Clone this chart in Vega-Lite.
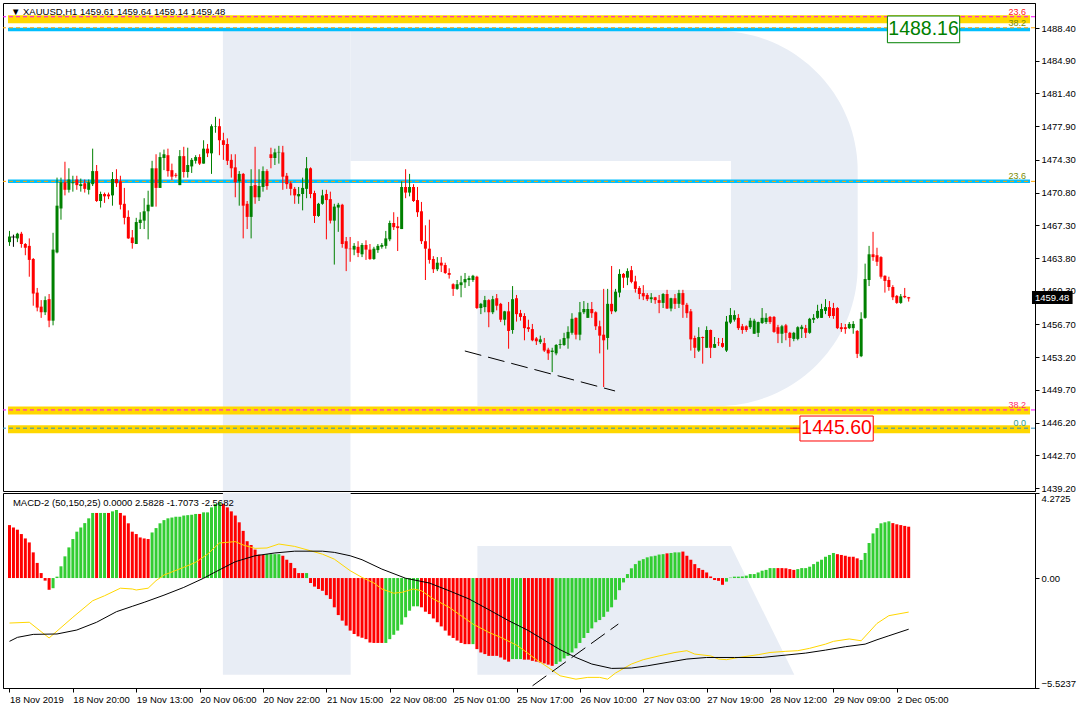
{
"$schema":"https://vega.github.io/schema/vega-lite/v6.json",
"padding":{"left":2,"top":2,"right":0,"bottom":0},
"background":"white",
"spacing":2,
"bounds":"flush",
"config":{"view":{"stroke":"#000000","strokeWidth":1},"font":"Liberation Sans","axis":{"labelFont":"Liberation Sans","labelFontSize":9.5,"labelColor":"#000000","domainColor":"#000000","tickColor":"#000000","grid":false,"title":null,"labelOverlap":false}},
"datasets":{
"candles":[
{"i":0,"o":1465.5,"h":1466.7,"l":1465.1,"c":1466.1,"m":2.66,"k":"r"},
{"i":1,"o":1466.05,"h":1466.3,"l":1465.0,"c":1466.05,"m":2.54,"k":"r"},
{"i":2,"o":1465.9,"h":1466.5,"l":1465.5,"c":1466.4,"m":2.43,"k":"r"},
{"i":3,"o":1466.4,"h":1466.6,"l":1464.9,"c":1465.3,"m":2.21,"k":"r"},
{"i":4,"o":1465.3,"h":1465.4,"l":1464.1,"c":1464.9,"m":1.99,"k":"r"},
{"i":5,"o":1465.1,"h":1465.9,"l":1461.8,"c":1463.6,"m":1.79,"k":"r"},
{"i":6,"o":1463.7,"h":1463.8,"l":1458.7,"c":1460.0,"m":1.29,"k":"r"},
{"i":7,"o":1460.1,"h":1460.6,"l":1458.1,"c":1458.5,"m":0.76,"k":"r"},
{"i":8,"o":1458.6,"h":1459.3,"l":1457.4,"c":1458.0,"m":0.25,"k":"r"},
{"i":9,"o":1458.0,"h":1459.7,"l":1457.7,"c":1459.3,"m":-0.13,"k":"r"},
{"i":10,"o":1459.4,"h":1459.95,"l":1456.4,"c":1457.1,"m":-0.59,"k":"r"},
{"i":11,"o":1457.1,"h":1466.5,"l":1456.6,"c":1464.7,"m":-0.51,"k":"g"},
{"i":12,"o":1464.4,"h":1472.4,"l":1464.3,"c":1469.4,"m":0.07,"k":"g"},
{"i":13,"o":1469.1,"h":1472.4,"l":1467.9,"c":1471.9,"m":0.59,"k":"g"},
{"i":14,"o":1471.9,"h":1474.1,"l":1470.5,"c":1471.1,"m":1.09,"k":"g"},
{"i":15,"o":1471.1,"h":1473.4,"l":1470.8,"c":1472.2,"m":1.54,"k":"g"},
{"i":16,"o":1471.8,"h":1472.6,"l":1470.9,"c":1471.9,"m":1.96,"k":"g"},
{"i":17,"o":1472.2,"h":1472.6,"l":1471.1,"c":1471.6,"m":2.33,"k":"g"},
{"i":18,"o":1471.5,"h":1472.3,"l":1470.9,"c":1471.7,"m":2.54,"k":"g"},
{"i":19,"o":1471.8,"h":1472.2,"l":1470.8,"c":1471.2,"m":2.76,"k":"g"},
{"i":20,"o":1471.1,"h":1472.2,"l":1470.6,"c":1471.9,"m":3.0,"k":"g"},
{"i":21,"o":1471.7,"h":1475.5,"l":1471.5,"c":1473.1,"m":3.27,"k":"g"},
{"i":22,"o":1473.1,"h":1473.75,"l":1469.8,"c":1469.9,"m":3.27,"k":"r"},
{"i":23,"o":1469.9,"h":1470.9,"l":1469.2,"c":1470.65,"m":3.27,"k":"g"},
{"i":24,"o":1470.65,"h":1470.8,"l":1469.7,"c":1470.4,"m":3.27,"k":"g"},
{"i":25,"o":1470.6,"h":1470.8,"l":1470.1,"c":1470.4,"m":3.27,"k":"r"},
{"i":26,"o":1470.5,"h":1473.0,"l":1469.4,"c":1472.25,"m":3.35,"k":"g"},
{"i":27,"o":1472.25,"h":1473.3,"l":1471.4,"c":1471.8,"m":3.42,"k":"g"},
{"i":28,"o":1472.0,"h":1472.6,"l":1469.0,"c":1469.5,"m":3.27,"k":"r"},
{"i":29,"o":1469.6,"h":1471.3,"l":1467.4,"c":1468.1,"m":3.14,"k":"r"},
{"i":30,"o":1468.2,"h":1468.9,"l":1465.85,"c":1465.9,"m":2.75,"k":"r"},
{"i":31,"o":1466.0,"h":1466.8,"l":1464.8,"c":1465.4,"m":2.33,"k":"r"},
{"i":32,"o":1465.3,"h":1468.1,"l":1465.3,"c":1467.65,"m":2.21,"k":"r"},
{"i":33,"o":1467.55,"h":1468.7,"l":1466.9,"c":1467.9,"m":2.04,"k":"r"},
{"i":34,"o":1467.8,"h":1470.2,"l":1466.9,"c":1468.8,"m":1.99,"k":"r"},
{"i":35,"o":1468.8,"h":1471.0,"l":1465.8,"c":1469.5,"m":1.96,"k":"r"},
{"i":36,"o":1469.3,"h":1474.2,"l":1469.3,"c":1473.4,"m":2.29,"k":"g"},
{"i":37,"o":1473.4,"h":1474.9,"l":1469.3,"c":1471.3,"m":2.51,"k":"g"},
{"i":38,"o":1471.3,"h":1475.1,"l":1471.3,"c":1474.6,"m":2.75,"k":"g"},
{"i":39,"o":1474.5,"h":1475.4,"l":1473.2,"c":1474.9,"m":2.91,"k":"g"},
{"i":40,"o":1474.8,"h":1475.5,"l":1472.5,"c":1473.1,"m":3.0,"k":"g"},
{"i":41,"o":1473.2,"h":1473.9,"l":1472.15,"c":1472.5,"m":3.04,"k":"g"},
{"i":42,"o":1472.7,"h":1472.9,"l":1472.4,"c":1472.6,"m":3.08,"k":"g"},
{"i":43,"o":1471.6,"h":1475.35,"l":1471.6,"c":1474.7,"m":3.08,"k":"g"},
{"i":44,"o":1474.7,"h":1475.7,"l":1472.4,"c":1473.0,"m":3.14,"k":"g"},
{"i":45,"o":1473.0,"h":1475.6,"l":1472.4,"c":1473.75,"m":3.16,"k":"g"},
{"i":46,"o":1473.6,"h":1474.5,"l":1472.9,"c":1474.3,"m":3.18,"k":"g"},
{"i":47,"o":1474.2,"h":1474.8,"l":1473.9,"c":1474.6,"m":3.22,"k":"g"},
{"i":48,"o":1474.6,"h":1474.9,"l":1473.75,"c":1473.9,"m":3.22,"k":"r"},
{"i":49,"o":1473.9,"h":1476.4,"l":1473.9,"c":1475.5,"m":3.3,"k":"g"},
{"i":50,"o":1475.5,"h":1476.0,"l":1474.6,"c":1475.0,"m":3.3,"k":"g"},
{"i":51,"o":1475.0,"h":1478.1,"l":1472.8,"c":1477.9,"m":3.55,"k":"g"},
{"i":52,"o":1477.85,"h":1478.9,"l":1477.2,"c":1477.9,"m":3.72,"k":"g"},
{"i":53,"o":1477.9,"h":1478.7,"l":1474.8,"c":1476.4,"m":3.81,"k":"g"},
{"i":54,"o":1476.4,"h":1477.2,"l":1474.3,"c":1475.9,"m":3.72,"k":"r"},
{"i":55,"o":1476.0,"h":1476.6,"l":1473.75,"c":1474.2,"m":3.55,"k":"r"},
{"i":56,"o":1474.3,"h":1474.9,"l":1472.4,"c":1473.4,"m":3.35,"k":"r"},
{"i":57,"o":1473.5,"h":1474.9,"l":1470.3,"c":1471.9,"m":3.14,"k":"r"},
{"i":58,"o":1472.0,"h":1473.1,"l":1469.4,"c":1472.8,"m":2.8,"k":"r"},
{"i":59,"o":1472.8,"h":1472.9,"l":1465.9,"c":1469.4,"m":2.37,"k":"r"},
{"i":60,"o":1469.6,"h":1469.9,"l":1466.9,"c":1468.2,"m":1.85,"k":"r"},
{"i":61,"o":1468.2,"h":1473.3,"l":1465.9,"c":1471.5,"m":1.66,"k":"r"},
{"i":62,"o":1471.6,"h":1475.7,"l":1469.6,"c":1470.3,"m":1.43,"k":"r"},
{"i":63,"o":1470.3,"h":1473.3,"l":1469.9,"c":1471.5,"m":1.18,"k":"r"},
{"i":64,"o":1471.4,"h":1473.6,"l":1470.9,"c":1473.1,"m":1.16,"k":"r"},
{"i":65,"o":1473.1,"h":1473.3,"l":1471.1,"c":1471.5,"m":1.2,"k":"g"},
{"i":66,"o":1474.9,"h":1475.6,"l":1473.4,"c":1474.5,"m":1.2,"k":"g"},
{"i":67,"o":1474.5,"h":1475.5,"l":1473.75,"c":1475.1,"m":1.2,"k":"g"},
{"i":68,"o":1475.1,"h":1475.8,"l":1473.9,"c":1475.15,"m":1.2,"k":"g"},
{"i":69,"o":1475.1,"h":1475.8,"l":1471.1,"c":1472.5,"m":1.12,"k":"r"},
{"i":70,"o":1472.6,"h":1472.9,"l":1471.2,"c":1471.7,"m":0.92,"k":"r"},
{"i":71,"o":1471.8,"h":1472.0,"l":1470.5,"c":1471.2,"m":0.76,"k":"r"},
{"i":72,"o":1471.2,"h":1471.4,"l":1469.6,"c":1470.5,"m":0.5,"k":"r"},
{"i":73,"o":1470.4,"h":1471.4,"l":1469.6,"c":1470.65,"m":0.25,"k":"r"},
{"i":74,"o":1470.65,"h":1472.4,"l":1468.9,"c":1471.3,"m":0.25,"k":"r"},
{"i":75,"o":1471.2,"h":1474.6,"l":1470.2,"c":1473.4,"m":0.25,"k":"g"},
{"i":76,"o":1473.4,"h":1473.5,"l":1470.2,"c":1470.65,"m":-0.25,"k":"r"},
{"i":77,"o":1470.75,"h":1471.0,"l":1467.55,"c":1468.3,"m":-0.43,"k":"r"},
{"i":78,"o":1468.3,"h":1469.7,"l":1468.2,"c":1469.6,"m":-0.55,"k":"r"},
{"i":79,"o":1469.6,"h":1471.1,"l":1469.5,"c":1470.5,"m":-0.64,"k":"r"},
{"i":80,"o":1470.65,"h":1471.1,"l":1465.8,"c":1470.0,"m":-0.86,"k":"r"},
{"i":81,"o":1470.1,"h":1470.9,"l":1467.5,"c":1467.8,"m":-1.05,"k":"r"},
{"i":82,"o":1467.8,"h":1469.6,"l":1463.1,"c":1469.3,"m":-1.47,"k":"r"},
{"i":83,"o":1469.2,"h":1469.7,"l":1466.6,"c":1469.5,"m":-1.86,"k":"r"},
{"i":84,"o":1469.5,"h":1469.6,"l":1464.9,"c":1465.3,"m":-2.14,"k":"r"},
{"i":85,"o":1465.6,"h":1466.05,"l":1462.4,"c":1464.8,"m":-2.39,"k":"r"},
{"i":86,"o":1464.8,"h":1466.05,"l":1463.4,"c":1464.75,"m":-2.64,"k":"r"},
{"i":87,"o":1464.7,"h":1465.4,"l":1464.1,"c":1465.1,"m":-2.81,"k":"r"},
{"i":88,"o":1465.0,"h":1465.6,"l":1463.9,"c":1464.35,"m":-2.93,"k":"r"},
{"i":89,"o":1464.2,"h":1465.4,"l":1463.9,"c":1465.2,"m":-3.0,"k":"r"},
{"i":90,"o":1465.2,"h":1465.7,"l":1463.6,"c":1464.7,"m":-3.07,"k":"r"},
{"i":91,"o":1464.7,"h":1465.3,"l":1463.6,"c":1463.7,"m":-3.24,"k":"r"},
{"i":92,"o":1463.7,"h":1465.0,"l":1463.6,"c":1464.8,"m":-3.26,"k":"r"},
{"i":93,"o":1464.65,"h":1465.3,"l":1464.35,"c":1465.1,"m":-3.26,"k":"r"},
{"i":94,"o":1465.0,"h":1465.4,"l":1464.8,"c":1465.2,"m":-3.26,"k":"r"},
{"i":95,"o":1465.1,"h":1466.7,"l":1464.8,"c":1465.9,"m":-3.26,"k":"g"},
{"i":96,"o":1465.8,"h":1467.8,"l":1465.6,"c":1467.55,"m":-3.07,"k":"g"},
{"i":97,"o":1467.55,"h":1468.7,"l":1466.8,"c":1467.1,"m":-2.85,"k":"g"},
{"i":98,"o":1467.2,"h":1468.2,"l":1464.55,"c":1467.0,"m":-2.64,"k":"g"},
{"i":99,"o":1466.9,"h":1472.0,"l":1466.9,"c":1471.4,"m":-2.34,"k":"g"},
{"i":100,"o":1471.4,"h":1473.3,"l":1470.2,"c":1470.8,"m":-1.97,"k":"g"},
{"i":101,"o":1470.8,"h":1472.8,"l":1470.4,"c":1471.4,"m":-1.64,"k":"g"},
{"i":102,"o":1471.4,"h":1471.7,"l":1469.8,"c":1469.9,"m":-1.42,"k":"g"},
{"i":103,"o":1470.0,"h":1471.4,"l":1468.2,"c":1468.7,"m":-1.42,"k":"g"},
{"i":104,"o":1468.8,"h":1469.8,"l":1465.3,"c":1465.6,"m":-1.47,"k":"r"},
{"i":105,"o":1465.6,"h":1467.3,"l":1461.45,"c":1464.8,"m":-1.69,"k":"r"},
{"i":106,"o":1464.8,"h":1467.9,"l":1463.2,"c":1463.6,"m":-1.81,"k":"r"},
{"i":107,"o":1463.7,"h":1464.0,"l":1462.2,"c":1462.6,"m":-2.03,"k":"r"},
{"i":108,"o":1462.6,"h":1463.9,"l":1462.4,"c":1463.3,"m":-2.22,"k":"r"},
{"i":109,"o":1463.3,"h":1463.9,"l":1462.3,"c":1463.0,"m":-2.43,"k":"r"},
{"i":110,"o":1463.05,"h":1463.3,"l":1462.1,"c":1462.2,"m":-2.64,"k":"r"},
{"i":111,"o":1462.2,"h":1462.7,"l":1461.6,"c":1462.0,"m":-2.89,"k":"r"},
{"i":112,"o":1461.0,"h":1461.1,"l":1459.75,"c":1460.5,"m":-3.01,"k":"r"},
{"i":113,"o":1460.5,"h":1461.45,"l":1460.4,"c":1461.0,"m":-3.14,"k":"r"},
{"i":114,"o":1460.9,"h":1461.9,"l":1459.6,"c":1461.2,"m":-3.26,"k":"r"},
{"i":115,"o":1461.2,"h":1462.2,"l":1460.6,"c":1461.55,"m":-3.32,"k":"r"},
{"i":116,"o":1461.45,"h":1461.9,"l":1460.8,"c":1461.65,"m":-3.32,"k":"r"},
{"i":117,"o":1461.45,"h":1462.0,"l":1461.25,"c":1461.9,"m":-3.32,"k":"g"},
{"i":118,"o":1461.8,"h":1461.9,"l":1458.35,"c":1458.45,"m":-3.57,"k":"r"},
{"i":119,"o":1458.45,"h":1459.0,"l":1457.8,"c":1458.9,"m":-3.74,"k":"r"},
{"i":120,"o":1458.55,"h":1459.75,"l":1458.0,"c":1459.3,"m":-3.82,"k":"r"},
{"i":121,"o":1459.3,"h":1459.4,"l":1456.4,"c":1458.0,"m":-3.91,"k":"r"},
{"i":122,"o":1458.0,"h":1459.75,"l":1457.8,"c":1459.4,"m":-3.91,"k":"r"},
{"i":123,"o":1459.5,"h":1459.95,"l":1458.2,"c":1458.7,"m":-3.91,"k":"r"},
{"i":124,"o":1458.9,"h":1459.0,"l":1456.95,"c":1457.2,"m":-3.99,"k":"r"},
{"i":125,"o":1457.2,"h":1458.15,"l":1456.6,"c":1458.1,"m":-4.1,"k":"r"},
{"i":126,"o":1458.1,"h":1459.1,"l":1454.1,"c":1456.0,"m":-4.2,"k":"r"},
{"i":127,"o":1456.1,"h":1460.8,"l":1455.7,"c":1459.4,"m":-4.07,"k":"g"},
{"i":128,"o":1459.5,"h":1459.85,"l":1457.0,"c":1457.8,"m":-4.07,"k":"g"},
{"i":129,"o":1457.9,"h":1458.25,"l":1457.1,"c":1457.5,"m":-4.07,"k":"g"},
{"i":130,"o":1457.6,"h":1457.9,"l":1455.0,"c":1456.3,"m":-4.1,"k":"r"},
{"i":131,"o":1456.4,"h":1457.2,"l":1455.9,"c":1456.2,"m":-4.1,"k":"r"},
{"i":132,"o":1456.2,"h":1456.75,"l":1454.9,"c":1455.0,"m":-4.16,"k":"r"},
{"i":133,"o":1455.2,"h":1455.35,"l":1454.5,"c":1454.9,"m":-4.2,"k":"r"},
{"i":134,"o":1454.8,"h":1455.5,"l":1454.6,"c":1455.1,"m":-4.24,"k":"r"},
{"i":135,"o":1454.7,"h":1455.25,"l":1453.75,"c":1453.9,"m":-4.29,"k":"r"},
{"i":136,"o":1454.0,"h":1454.2,"l":1452.9,"c":1453.6,"m":-4.35,"k":"r"},
{"i":137,"o":1453.75,"h":1454.2,"l":1451.6,"c":1453.9,"m":-4.41,"k":"r"},
{"i":138,"o":1453.6,"h":1454.6,"l":1453.4,"c":1454.5,"m":-4.32,"k":"g"},
{"i":139,"o":1454.5,"h":1455.1,"l":1454.1,"c":1454.6,"m":-4.2,"k":"g"},
{"i":140,"o":1454.5,"h":1455.8,"l":1454.4,"c":1455.25,"m":-4.04,"k":"g"},
{"i":141,"o":1455.2,"h":1456.5,"l":1454.1,"c":1455.9,"m":-3.91,"k":"g"},
{"i":142,"o":1455.8,"h":1457.9,"l":1455.6,"c":1457.3,"m":-3.74,"k":"g"},
{"i":143,"o":1457.4,"h":1457.45,"l":1455.1,"c":1455.6,"m":-3.53,"k":"g"},
{"i":144,"o":1455.6,"h":1459.1,"l":1455.0,"c":1458.0,"m":-3.26,"k":"g"},
{"i":145,"o":1458.0,"h":1459.2,"l":1457.8,"c":1458.35,"m":-3.01,"k":"g"},
{"i":146,"o":1457.4,"h":1459.0,"l":1457.4,"c":1458.35,"m":-2.76,"k":"g"},
{"i":147,"o":1458.35,"h":1459.1,"l":1457.4,"c":1457.9,"m":-2.53,"k":"g"},
{"i":148,"o":1458.0,"h":1458.1,"l":1456.1,"c":1456.5,"m":-2.22,"k":"g"},
{"i":149,"o":1456.5,"h":1457.1,"l":1453.6,"c":1455.5,"m":-2.11,"k":"g"},
{"i":150,"o":1455.6,"h":1460.5,"l":1450.0,"c":1455.0,"m":-1.95,"k":"g"},
{"i":151,"o":1455.25,"h":1460.5,"l":1454.0,"c":1458.9,"m":-1.69,"k":"g"},
{"i":152,"o":1458.9,"h":1462.95,"l":1457.8,"c":1458.1,"m":-1.47,"k":"g"},
{"i":153,"o":1458.1,"h":1460.5,"l":1458.0,"c":1460.2,"m":-1.09,"k":"g"},
{"i":154,"o":1460.1,"h":1462.6,"l":1459.6,"c":1462.1,"m":-0.61,"k":"g"},
{"i":155,"o":1462.1,"h":1462.2,"l":1460.6,"c":1461.7,"m":-0.22,"k":"g"},
{"i":156,"o":1461.7,"h":1462.7,"l":1460.9,"c":1462.4,"m":0.2,"k":"g"},
{"i":157,"o":1462.5,"h":1462.95,"l":1461.1,"c":1461.25,"m":0.49,"k":"g"},
{"i":158,"o":1461.3,"h":1461.9,"l":1460.1,"c":1460.5,"m":0.7,"k":"g"},
{"i":159,"o":1460.6,"h":1460.8,"l":1459.4,"c":1459.95,"m":0.87,"k":"g"},
{"i":160,"o":1460.05,"h":1460.9,"l":1459.3,"c":1459.7,"m":0.95,"k":"g"},
{"i":161,"o":1459.85,"h":1460.05,"l":1459.2,"c":1459.4,"m":1.04,"k":"g"},
{"i":162,"o":1459.4,"h":1460.05,"l":1459.0,"c":1459.6,"m":1.09,"k":"g"},
{"i":163,"o":1459.6,"h":1459.65,"l":1458.9,"c":1459.3,"m":1.12,"k":"g"},
{"i":164,"o":1459.3,"h":1459.85,"l":1457.9,"c":1459.0,"m":1.18,"k":"g"},
{"i":165,"o":1459.0,"h":1460.05,"l":1458.45,"c":1459.95,"m":1.2,"k":"g"},
{"i":166,"o":1459.95,"h":1460.4,"l":1458.35,"c":1458.4,"m":1.24,"k":"r"},
{"i":167,"o":1458.4,"h":1459.55,"l":1458.1,"c":1459.5,"m":1.26,"k":"g"},
{"i":168,"o":1459.5,"h":1459.95,"l":1458.35,"c":1458.9,"m":1.29,"k":"g"},
{"i":169,"o":1458.9,"h":1460.4,"l":1458.45,"c":1460.05,"m":1.29,"k":"g"},
{"i":170,"o":1460.05,"h":1460.4,"l":1457.4,"c":1458.8,"m":1.33,"k":"r"},
{"i":171,"o":1458.8,"h":1459.0,"l":1457.4,"c":1457.9,"m":1.12,"k":"r"},
{"i":172,"o":1458.1,"h":1458.35,"l":1453.9,"c":1455.1,"m":0.92,"k":"r"},
{"i":173,"o":1455.25,"h":1455.5,"l":1453.1,"c":1454.2,"m":0.7,"k":"r"},
{"i":174,"o":1453.9,"h":1456.4,"l":1453.75,"c":1455.35,"m":0.5,"k":"r"},
{"i":175,"o":1455.35,"h":1455.4,"l":1452.5,"c":1455.25,"m":0.41,"k":"r"},
{"i":176,"o":1454.2,"h":1456.5,"l":1454.2,"c":1456.1,"m":0.28,"k":"r"},
{"i":177,"o":1456.1,"h":1456.15,"l":1453.1,"c":1454.2,"m":0.08,"k":"r"},
{"i":178,"o":1454.2,"h":1455.35,"l":1454.2,"c":1454.6,"m":-0.1,"k":"r"},
{"i":179,"o":1454.75,"h":1455.25,"l":1454.4,"c":1454.7,"m":-0.14,"k":"r"},
{"i":180,"o":1454.7,"h":1455.25,"l":1454.2,"c":1454.3,"m":-0.34,"k":"r"},
{"i":181,"o":1453.9,"h":1457.6,"l":1453.75,"c":1457.0,"m":-0.18,"k":"g"},
{"i":182,"o":1456.9,"h":1458.45,"l":1456.75,"c":1457.7,"m":0.02,"k":"g"},
{"i":183,"o":1457.2,"h":1458.2,"l":1457.0,"c":1457.7,"m":0.07,"k":"g"},
{"i":184,"o":1457.4,"h":1457.8,"l":1456.1,"c":1456.3,"m":0.07,"k":"g"},
{"i":185,"o":1456.5,"h":1456.75,"l":1455.7,"c":1456.1,"m":0.08,"k":"g"},
{"i":186,"o":1456.5,"h":1456.6,"l":1455.9,"c":1456.1,"m":0.12,"k":"g"},
{"i":187,"o":1456.4,"h":1457.4,"l":1456.2,"c":1457.1,"m":0.2,"k":"g"},
{"i":188,"o":1455.7,"h":1457.3,"l":1455.7,"c":1457.1,"m":0.2,"k":"g"},
{"i":189,"o":1455.8,"h":1457.0,"l":1455.35,"c":1456.95,"m":0.28,"k":"g"},
{"i":190,"o":1456.85,"h":1458.45,"l":1456.75,"c":1457.4,"m":0.37,"k":"g"},
{"i":191,"o":1456.95,"h":1457.9,"l":1456.75,"c":1457.4,"m":0.41,"k":"g"},
{"i":192,"o":1457.5,"h":1457.6,"l":1456.75,"c":1456.95,"m":0.5,"k":"g"},
{"i":193,"o":1457.5,"h":1457.6,"l":1455.8,"c":1455.9,"m":0.5,"k":"g"},
{"i":194,"o":1456.4,"h":1456.65,"l":1454.7,"c":1455.7,"m":0.5,"k":"r"},
{"i":195,"o":1455.7,"h":1456.65,"l":1454.7,"c":1456.5,"m":0.5,"k":"r"},
{"i":196,"o":1456.6,"h":1456.75,"l":1455.0,"c":1455.8,"m":0.49,"k":"r"},
{"i":197,"o":1455.8,"h":1455.9,"l":1454.3,"c":1455.25,"m":0.45,"k":"r"},
{"i":198,"o":1455.15,"h":1455.9,"l":1454.9,"c":1455.8,"m":0.41,"k":"r"},
{"i":199,"o":1455.15,"h":1456.5,"l":1455.0,"c":1456.4,"m":0.45,"k":"g"},
{"i":200,"o":1456.2,"h":1456.65,"l":1455.25,"c":1456.45,"m":0.5,"k":"g"},
{"i":201,"o":1456.3,"h":1456.65,"l":1455.25,"c":1455.8,"m":0.5,"k":"g"},
{"i":202,"o":1455.8,"h":1457.4,"l":1455.7,"c":1457.3,"m":0.57,"k":"g"},
{"i":203,"o":1457.2,"h":1457.8,"l":1456.85,"c":1457.4,"m":0.7,"k":"g"},
{"i":204,"o":1457.4,"h":1458.8,"l":1457.3,"c":1458.15,"m":0.82,"k":"g"},
{"i":205,"o":1457.4,"h":1458.9,"l":1457.4,"c":1458.35,"m":0.92,"k":"g"},
{"i":206,"o":1458.15,"h":1459.4,"l":1457.8,"c":1458.55,"m":1.07,"k":"g"},
{"i":207,"o":1458.55,"h":1459.2,"l":1457.4,"c":1457.6,"m":1.16,"k":"g"},
{"i":208,"o":1458.45,"h":1459.0,"l":1457.3,"c":1457.6,"m":1.26,"k":"g"},
{"i":209,"o":1458.45,"h":1458.55,"l":1456.2,"c":1456.3,"m":1.2,"k":"r"},
{"i":210,"o":1456.4,"h":1456.85,"l":1455.9,"c":1456.2,"m":1.16,"k":"r"},
{"i":211,"o":1456.4,"h":1456.75,"l":1455.7,"c":1456.2,"m":1.12,"k":"r"},
{"i":212,"o":1456.3,"h":1456.95,"l":1456.2,"c":1456.75,"m":1.07,"k":"r"},
{"i":213,"o":1456.3,"h":1457.05,"l":1455.7,"c":1456.75,"m":1.07,"k":"r"},
{"i":214,"o":1456.0,"h":1456.1,"l":1453.1,"c":1453.55,"m":0.99,"k":"r"},
{"i":215,"o":1453.3,"h":1458.0,"l":1453.2,"c":1457.3,"m":0.91,"k":"g"},
{"i":216,"o":1457.4,"h":1463.2,"l":1457.3,"c":1461.55,"m":1.26,"k":"g"},
{"i":217,"o":1461.45,"h":1465.1,"l":1460.8,"c":1464.2,"m":1.76,"k":"g"},
{"i":218,"o":1464.2,"h":1466.6,"l":1463.5,"c":1463.9,"m":2.24,"k":"g"},
{"i":219,"o":1464.1,"h":1464.9,"l":1462.95,"c":1463.4,"m":2.51,"k":"g"},
{"i":220,"o":1463.9,"h":1464.0,"l":1461.6,"c":1461.8,"m":2.75,"k":"g"},
{"i":221,"o":1461.9,"h":1461.95,"l":1460.1,"c":1461.35,"m":2.8,"k":"g"},
{"i":222,"o":1461.45,"h":1461.8,"l":1460.3,"c":1460.7,"m":2.85,"k":"g"},
{"i":223,"o":1460.7,"h":1460.9,"l":1459.3,"c":1459.6,"m":2.76,"k":"r"},
{"i":224,"o":1459.75,"h":1459.85,"l":1458.9,"c":1459.0,"m":2.7,"k":"r"},
{"i":225,"o":1459.0,"h":1459.95,"l":1458.9,"c":1459.7,"m":2.66,"k":"r"},
{"i":226,"o":1459.75,"h":1460.6,"l":1459.5,"c":1459.6,"m":2.62,"k":"r"},
{"i":227,"o":1459.61,"h":1459.64,"l":1459.14,"c":1459.48,"m":2.58,"k":"r"}
],
"lines":[
{"s":"m","i":0,"v":-2.26},{"s":"m","i":5,"v":-2.22},{"s":"m","i":10,"v":-3.01},{"s":"m","i":16,"v":-1.97},{"s":"m","i":21,"v":-1.14},{"s":"m","i":24,"v":-0.89},{"s":"m","i":28,"v":-0.51},{"s":"m","i":31,"v":-0.55},{"s":"m","i":32,"v":-0.6},{"s":"m","i":35,"v":-0.51},{"s":"m","i":37,"v":-0.13},{"s":"m","i":39,"v":0.15},{"s":"m","i":44,"v":0.54},{"s":"m","i":47,"v":0.79},{"s":"m","i":50,"v":1.2},{"s":"m","i":53,"v":1.76},{"s":"m","i":57,"v":1.83},{"s":"m","i":59,"v":1.66},{"s":"m","i":62,"v":1.49},{"s":"m","i":65,"v":1.51},{"s":"m","i":68,"v":1.71},{"s":"m","i":72,"v":1.59},{"s":"m","i":76,"v":1.37},{"s":"m","i":79,"v":1.2},{"s":"m","i":82,"v":0.95},{"s":"m","i":86,"v":0.37},{"s":"m","i":89,"v":0.03},{"s":"m","i":92,"v":-0.25},{"s":"m","i":94,"v":-0.55},{"s":"m","i":97,"v":-0.76},{"s":"m","i":99,"v":-0.72},{"s":"m","i":102,"v":-0.55},{"s":"m","i":104,"v":-0.64},{"s":"m","i":107,"v":-1.05},{"s":"m","i":111,"v":-1.47},{"s":"m","i":114,"v":-1.89},{"s":"m","i":117,"v":-2.31},{"s":"m","i":121,"v":-2.73},{"s":"m","i":124,"v":-2.98},{"s":"m","i":128,"v":-3.37},{"s":"m","i":130,"v":-3.65},{"s":"m","i":133,"v":-4.1},{"s":"m","i":136,"v":-4.49},{"s":"m","i":139,"v":-4.91},{"s":"m","i":143,"v":-5.08},{"s":"m","i":146,"v":-4.99},{"s":"m","i":149,"v":-4.99},{"s":"m","i":151,"v":-5.08},{"s":"m","i":153,"v":-4.77},{"s":"m","i":157,"v":-4.32},{"s":"m","i":160,"v":-4.1},{"s":"m","i":164,"v":-3.91},{"s":"m","i":168,"v":-3.74},{"s":"m","i":171,"v":-3.65},{"s":"m","i":173,"v":-3.82},{"s":"m","i":177,"v":-3.91},{"s":"m","i":179,"v":-4.07},{"s":"m","i":181,"v":-4.1},{"s":"m","i":184,"v":-3.99},{"s":"m","i":189,"v":-3.85},{"s":"m","i":192,"v":-3.74},{"s":"m","i":196,"v":-3.68},{"s":"m","i":199,"v":-3.65},{"s":"m","i":202,"v":-3.53},{"s":"m","i":206,"v":-3.32},{"s":"m","i":208,"v":-3.18},{"s":"m","i":212,"v":-3.06},{"s":"m","i":215,"v":-3.15},{"s":"m","i":219,"v":-2.28},{"s":"m","i":222,"v":-1.89},{"s":"m","i":227,"v":-1.71},
{"s":"s","i":0,"v":-3.18},{"s":"s","i":2,"v":-2.98},{"s":"s","i":6,"v":-2.83},{"s":"s","i":12,"v":-2.81},{"s":"s","i":17,"v":-2.61},{"s":"s","i":22,"v":-2.22},{"s":"s","i":27,"v":-1.69},{"s":"s","i":31,"v":-1.42},{"s":"s","i":34,"v":-1.22},{"s":"s","i":39,"v":-0.86},{"s":"s","i":44,"v":-0.47},{"s":"s","i":49,"v":-0.01},{"s":"s","i":52,"v":0.31},{"s":"s","i":57,"v":0.82},{"s":"s","i":62,"v":1.12},{"s":"s","i":67,"v":1.26},{"s":"s","i":72,"v":1.35},{"s":"s","i":79,"v":1.35},{"s":"s","i":82,"v":1.29},{"s":"s","i":86,"v":1.12},{"s":"s","i":89,"v":0.92},{"s":"s","i":94,"v":0.45},{"s":"s","i":100,"v":-0.01},{"s":"s","i":106,"v":-0.25},{"s":"s","i":111,"v":-0.64},{"s":"s","i":116,"v":-1.05},{"s":"s","i":121,"v":-1.59},{"s":"s","i":126,"v":-2.14},{"s":"s","i":131,"v":-2.64},{"s":"s","i":136,"v":-3.24},{"s":"s","i":139,"v":-3.6},{"s":"s","i":143,"v":-3.99},{"s":"s","i":147,"v":-4.32},{"s":"s","i":152,"v":-4.54},{"s":"s","i":157,"v":-4.52},{"s":"s","i":161,"v":-4.41},{"s":"s","i":166,"v":-4.24},{"s":"s","i":171,"v":-4.07},{"s":"s","i":176,"v":-3.99},{"s":"s","i":183,"v":-3.99},{"s":"s","i":190,"v":-3.99},{"s":"s","i":194,"v":-3.91},{"s":"s","i":201,"v":-3.77},{"s":"s","i":206,"v":-3.62},{"s":"s","i":211,"v":-3.45},{"s":"s","i":216,"v":-3.32},{"s":"s","i":219,"v":-3.1},{"s":"s","i":222,"v":-2.9},{"s":"s","i":227,"v":-2.57}
],
"levels":[
{"p":1489.33,"k":"y"},{"p":1447.48,"k":"y"},{"p":1445.48,"k":"y"},
{"p":1488.24,"k":"b"},{"p":1472.0,"k":"b"},
{"p":1489.61,"k":"dm"},{"p":1488.43,"k":"do"},{"p":1472.0,"k":"do"},{"p":1447.55,"k":"dm"},{"p":1445.6,"k":"dt"}
],
"fiblab":[
{"p":1489.61,"t":"23.6","k":"a"},{"p":1488.43,"t":"38.2","k":"b"},{"p":1472.0,"t":"23.6","k":"b"},{"p":1447.55,"t":"38.2","k":"c"},{"p":1445.6,"t":"0.0","k":"d"}
],
"logo":[
{"s":"stem","x1":53.875,"x2":86.125,"y1":1488.08,"y2":1438.88},
{"s":"bowl","x1":86.125,"x2":214.125,"y1":1488.08,"y2":1447.97},
{"s":"cut","x1":86.125,"x2":182.125,"y1":1474.18,"y2":1460.38},
{"s":"cut","x1":86.125,"x2":118.125,"y1":1460.38,"y2":1438.88}
],
"boxes":[
{"k":"g","t":"1488.16","x1":221.625,"x2":239.875,"y1":1489.69,"y2":1486.83,"xc":230.75,"yc":1488.26},
{"k":"r","t":"1445.60","x1":199.55,"x2":218.05,"y1":1446.9,"y2":1444.23,"xc":208.8,"yc":1445.57}
],
"pointer":[{"x1":197.05,"x2":199.55,"p":1445.6}],
"trend1":[{"i":114.95,"p":1453.86},{"i":152.875,"p":1449.58}],
"trend2":[{"i":132.05,"v":-5.41},{"i":153.7,"v":-2.31}],
"last":[{"x1":258.125,"x2":268.375,"y1":1460.27,"y2":1458.88,"xt":258.875,"p":1459.48,"t":"1459.48"}],
"cap1":[{"t":"▼ XAUUSD,H1  1459.61 1459.64 1459.14 1459.48"}],
"cap2":[{"t":"MACD-2 (50,150,25) 0.0000 2.5828 -1.7073 -2.5682"}],
"macdlogo":[{"x1":53.875,"x2":86.125,"y1":4.2725,"y2":-4.855}],
"leg":[{"v":1.61,"xl":118.125,"xr":182.125},{"v":-4.855,"xl":118.125,"xr":198.125}]
},
"vconcat":[
{
"width":1032,"height":488,
"layer":[
{"data":{"name":"logo"},"transform":[{"filter":"datum.s=='stem'"}],"mark":{"type":"rect","fill":"#e8edf5"},
 "encoding":{"x":{"field":"x1","type":"quantitative","scale":{"domain":[-0.375,257.625],"nice":false,"zero":false},"axis":null},"x2":{"field":"x2"},
 "y":{"field":"y1","type":"quantitative","scale":{"domain":[1438.88,1491.08],"nice":false,"zero":false},
   "axis":{"orient":"right","values":[1439.2,1442.7,1446.2,1449.7,1453.2,1456.7,1460.3,1463.8,1467.3,1470.8,1474.3,1477.9,1481.4,1484.9,1488.4],"tickCount":40,"format":".2f","tickSize":4,"labelPadding":2,"labelOverlap":false,"labelBound":false}},
 "y2":{"field":"y2"}}},
{"data":{"name":"logo"},"transform":[{"filter":"datum.s=='bowl'"}],"mark":{"type":"rect","fill":"#e8edf5","cornerRadiusTopRight":140,"cornerRadiusBottomRight":140},
 "encoding":{"x":{"field":"x1","type":"quantitative"},"x2":{"field":"x2"},"y":{"field":"y1","type":"quantitative"},"y2":{"field":"y2"}}},
{"data":{"name":"logo"},"transform":[{"filter":"datum.s=='cut'"}],"mark":{"type":"rect","fill":"#ffffff"},
 "encoding":{"x":{"field":"x1","type":"quantitative"},"x2":{"field":"x2"},"y":{"field":"y1","type":"quantitative"},"y2":{"field":"y2"}}},
{"data":{"name":"levels"},"transform":[{"filter":"datum.k=='y'"}],"mark":{"type":"rule","color":"#ffd700","strokeWidth":8,"strokeCap":"square"},
 "encoding":{"x":{"datum":0.625,"type":"quantitative"},"x2":{"datum":256.625},"y":{"field":"p","type":"quantitative"}}},
{"data":{"name":"levels"},"transform":[{"filter":"datum.k=='b'"}],"mark":{"type":"rule","color":"#00bfff","strokeWidth":3.5,"strokeCap":"square"},
 "encoding":{"x":{"datum":0.0625,"type":"quantitative"},"x2":{"datum":257.1875},"y":{"field":"p","type":"quantitative"}}},
{"data":{"name":"levels"},"transform":[{"filter":"datum.k=='dm' || datum.k=='do' || datum.k=='dt'"}],"mark":{"type":"rule","strokeWidth":1,"strokeDash":[4,3]},
 "encoding":{"y":{"field":"p","type":"quantitative"},"color":{"condition":[{"test":"datum.k=='dm'","value":"#ff00ff"},{"test":"datum.k=='do'","value":"#ffa500"}],"value":"#2f8fbf"}}},
{"mark":{"type":"rule","color":"#c0c0c0","strokeWidth":1},"encoding":{"y":{"datum":1459.48,"type":"quantitative"}}},
{"data":{"name":"candles"},"mark":{"type":"rule","strokeWidth":1},
 "encoding":{"x":{"field":"i","type":"quantitative"},"y":{"field":"l","type":"quantitative"},"y2":{"field":"h"},
 "color":{"condition":[{"test":"datum.c > datum.o","value":"#008000"},{"test":"datum.c < datum.o","value":"#ff0000"}],"value":"#000000"}}},
{"data":{"name":"candles"},"mark":{"type":"bar","size":3},
 "encoding":{"x":{"field":"i","type":"quantitative"},"y":{"field":"o","type":"quantitative"},"y2":{"field":"c"},
 "color":{"condition":[{"test":"datum.c > datum.o","value":"#008000"},{"test":"datum.c < datum.o","value":"#ff0000"}],"value":"#000000"}}},
{"data":{"name":"candles"},"transform":[{"filter":"datum.o == datum.c"}],"mark":{"type":"tick","orient":"horizontal","size":5,"thickness":1,"color":"#000000"},
 "encoding":{"x":{"field":"i","type":"quantitative"},"y":{"field":"c","type":"quantitative"}}},
{"data":{"name":"trend1"},"mark":{"type":"line","color":"#000000","strokeWidth":1,"strokeDash":[17,7]},
 "encoding":{"x":{"field":"i","type":"quantitative"},"y":{"field":"p","type":"quantitative"}}},
{"data":{"name":"pointer"},"mark":{"type":"rule","color":"#ff0000","strokeWidth":1},
 "encoding":{"x":{"field":"x1","type":"quantitative"},"x2":{"field":"x2"},"y":{"field":"p","type":"quantitative"}}},
{"data":{"name":"boxes"},"mark":{"type":"rect","fill":"#ffffff","strokeWidth":1},
 "encoding":{"x":{"field":"x1","type":"quantitative"},"x2":{"field":"x2"},"y":{"field":"y1","type":"quantitative"},"y2":{"field":"y2"},
 "stroke":{"condition":{"test":"datum.k=='g'","value":"#008000"},"value":"#ff0000"}}},
{"data":{"name":"boxes"},"mark":{"type":"text","font":"Liberation Sans","fontSize":19.5,"align":"center","baseline":"middle"},
 "encoding":{"x":{"field":"xc","type":"quantitative"},"y":{"field":"yc","type":"quantitative"},"text":{"field":"t"},
 "color":{"condition":{"test":"datum.k=='g'","value":"#008000"},"value":"#ff0000"}}},
{"data":{"name":"fiblab"},"mark":{"type":"text","fontSize":9,"align":"right","baseline":"alphabetic","dy":-2},
 "encoding":{"x":{"datum":256.625,"type":"quantitative"},"y":{"field":"p","type":"quantitative"},"text":{"field":"t"},
 "color":{"condition":[{"test":"datum.k=='a'","value":"#ff2020"},{"test":"datum.k=='b'","value":"#7a8a00"},{"test":"datum.k=='c'","value":"#ff3070"}],"value":"#2e9a8e"}}},
{"data":{"name":"last"},"mark":{"type":"rect","fill":"#000000"},
 "encoding":{"x":{"field":"x1","type":"quantitative"},"x2":{"field":"x2"},"y":{"field":"y1","type":"quantitative"},"y2":{"field":"y2"}}},
{"data":{"name":"last"},"mark":{"type":"text","fontSize":9.5,"align":"left","baseline":"middle","color":"#ffffff"},
 "encoding":{"x":{"field":"xt","type":"quantitative"},"y":{"field":"p","type":"quantitative"},"text":{"field":"t"}}},
{"data":{"name":"cap1"},"mark":{"type":"text","fontSize":9.5,"align":"left","baseline":"alphabetic","color":"#000000"},
 "encoding":{"x":{"datum":0.375,"type":"quantitative"},"y":{"datum":1489.8,"type":"quantitative"},"text":{"field":"t"}}}
]
},
{
"width":1032,"height":195,
"layer":[
{"data":{"name":"macdlogo"},"mark":{"type":"rect","fill":"#e8edf5"},
 "encoding":{"x":{"field":"x1","type":"quantitative","scale":{"domain":[-0.375,257.625],"nice":false,"zero":false},
   "axis":{"values":[0,16,32,48,64,80,96,112,128,144,160,176,192,208,224],"tickCount":40,"labelExpr":"['18 Nov 2019','18 Nov 20:00','19 Nov 13:00','20 Nov 06:00','20 Nov 22:00','21 Nov 15:00','22 Nov 08:00','25 Nov 01:00','25 Nov 17:00','26 Nov 10:00','27 Nov 03:00','27 Nov 19:00','28 Nov 12:00','29 Nov 09:00','2 Dec 05:00'][round(datum.value/16)]","labelAlign":"left","labelFlush":false,"labelOverlap":false,"labelBound":false,"tickSize":4,"labelPadding":2}},
 "x2":{"field":"x2"},
 "y":{"field":"y1","type":"quantitative","scale":{"domain":[-5.5237,4.2725],"nice":false,"zero":false},
   "axis":{"orient":"right","values":[4.2725,0,-5.5237],"labelExpr":"datum.value == 0 ? '0.00' : format(datum.value, '.4f')","labelFlush":true,"tickSize":4,"labelPadding":2,"labelOverlap":false}},
 "y2":{"field":"y2"}}},
{"data":{"name":"leg"},"mark":{"type":"area","orient":"horizontal","fill":"#e8edf5"},
 "encoding":{"y":{"field":"v","type":"quantitative"},"x":{"field":"xl","type":"quantitative"},"x2":{"field":"xr"}}},
{"data":{"name":"candles"},"mark":{"type":"bar","size":3},
 "encoding":{"x":{"field":"i","type":"quantitative"},"y":{"field":"m","type":"quantitative"},"y2":{"datum":0},
 "color":{"condition":{"test":"datum.k=='g'","value":"#32cd32"},"value":"#ff0000"}}},
{"data":{"name":"lines"},"mark":{"type":"line","strokeWidth":1},
 "encoding":{"x":{"field":"i","type":"quantitative"},"y":{"field":"v","type":"quantitative"},"detail":{"field":"s"},
 "color":{"condition":{"test":"datum.s=='m'","value":"#ffd700"},"value":"#000000"}}},
{"data":{"name":"trend2"},"mark":{"type":"line","color":"#000000","strokeWidth":1,"strokeDash":[17,7]},
 "encoding":{"x":{"field":"i","type":"quantitative"},"y":{"field":"v","type":"quantitative"}}},
{"data":{"name":"cap2"},"mark":{"type":"text","fontSize":9.5,"align":"left","baseline":"alphabetic","color":"#000000"},
 "encoding":{"x":{"datum":0.875,"type":"quantitative"},"y":{"datum":3.635,"type":"quantitative"},"text":{"field":"t"}}}
]
}
]
}
